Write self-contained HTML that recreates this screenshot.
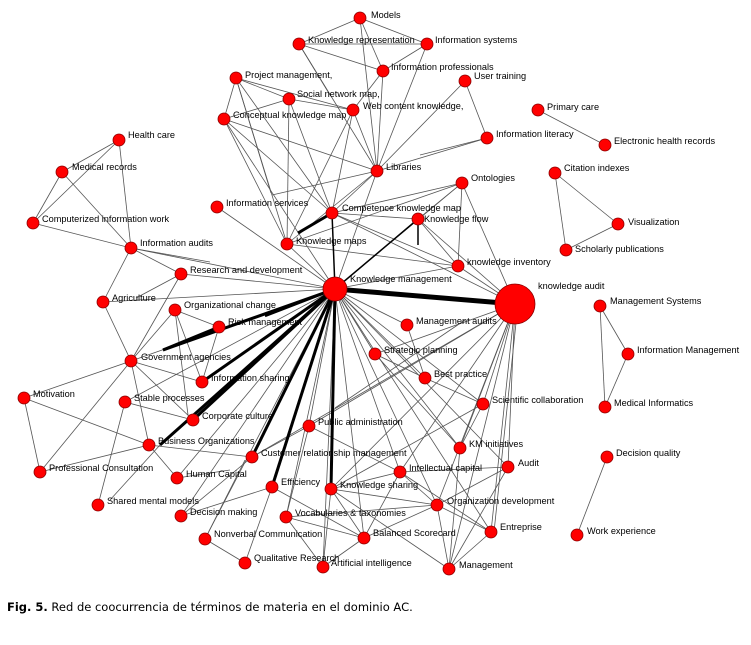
<!DOCTYPE html>
<html><head><meta charset="utf-8"><style>
html,body{margin:0;padding:0;background:#fff;}
svg{display:block;}
text{font-family:"Liberation Sans",Arial,sans-serif;font-size:9.2px;fill:#000;}
.e line{stroke:#555;stroke-width:0.8;}
.t line{stroke:#000;}
circle{fill:#f00;stroke:#8a0000;stroke-width:0.8;}
.cap{font-family:"DejaVu Sans",Verdana,sans-serif;font-size:11.5px;}
</style></head><body>
<svg width="751" height="645" viewBox="0 0 751 645">
<g class="e">
<line x1="335" y1="289" x2="287" y2="244"/><line x1="335" y1="289" x2="217" y2="207"/><line x1="335" y1="289" x2="181" y2="274"/>
<line x1="335" y1="289" x2="103" y2="302"/><line x1="335" y1="289" x2="131" y2="248"/><line x1="335" y1="289" x2="458" y2="266"/>
<line x1="335" y1="289" x2="462" y2="183"/><line x1="335" y1="289" x2="407" y2="325"/><line x1="335" y1="289" x2="375" y2="354"/>
<line x1="335" y1="289" x2="425" y2="378"/><line x1="335" y1="289" x2="483" y2="404"/><line x1="335" y1="289" x2="460" y2="448"/>
<line x1="335" y1="289" x2="309" y2="426"/><line x1="335" y1="289" x2="400" y2="472"/><line x1="335" y1="289" x2="437" y2="505"/>
<line x1="335" y1="289" x2="364" y2="538"/><line x1="335" y1="289" x2="286" y2="517"/><line x1="335" y1="289" x2="323" y2="567"/>
<line x1="335" y1="289" x2="491" y2="532"/><line x1="335" y1="289" x2="377" y2="171"/><line x1="335" y1="289" x2="224" y2="119"/>
<line x1="335" y1="289" x2="181" y2="516"/><line x1="335" y1="289" x2="177" y2="478"/><line x1="335" y1="289" x2="125" y2="402"/>
<line x1="335" y1="289" x2="508" y2="467"/><line x1="335" y1="289" x2="131" y2="361"/><line x1="335" y1="289" x2="205" y2="539"/>
<line x1="515" y1="304" x2="458" y2="266"/><line x1="515" y1="304" x2="418" y2="219"/><line x1="515" y1="304" x2="462" y2="183"/>
<line x1="515" y1="304" x2="483" y2="404"/><line x1="515" y1="304" x2="508" y2="467"/><line x1="515" y1="304" x2="491" y2="532"/>
<line x1="518" y1="304" x2="494" y2="532"/><line x1="515" y1="304" x2="449" y2="569"/><line x1="515" y1="304" x2="437" y2="505"/>
<line x1="515" y1="304" x2="331" y2="489"/><line x1="515" y1="304" x2="252" y2="457"/><line x1="515" y1="304" x2="400" y2="472"/>
<line x1="515" y1="304" x2="375" y2="354"/><line x1="515" y1="304" x2="309" y2="426"/><line x1="515" y1="304" x2="460" y2="448"/>
<line x1="515" y1="304" x2="332" y2="213"/>
<line x1="360" y1="18" x2="299" y2="44"/><line x1="360" y1="18" x2="427" y2="44"/><line x1="360" y1="18" x2="383" y2="71"/><line x1="360" y1="18" x2="377" y2="171"/>
<line x1="299" y1="44" x2="427" y2="44"/><line x1="299" y1="44" x2="383" y2="71"/><line x1="299" y1="44" x2="377" y2="171"/><line x1="299" y1="44" x2="330" y2="95"/>
<line x1="427" y1="44" x2="383" y2="71"/><line x1="427" y1="44" x2="377" y2="171"/><line x1="383" y1="71" x2="353" y2="110"/><line x1="383" y1="71" x2="377" y2="171"/>
<line x1="465" y1="81" x2="487" y2="138"/><line x1="465" y1="81" x2="377" y2="171"/><line x1="487" y1="138" x2="377" y2="171"/><line x1="487" y1="138" x2="420" y2="155"/>
<line x1="538" y1="110" x2="605" y2="145"/>
<line x1="236" y1="78" x2="289" y2="99"/><line x1="236" y1="78" x2="353" y2="110"/><line x1="236" y1="78" x2="224" y2="119"/><line x1="236" y1="78" x2="287" y2="244"/>
<line x1="236" y1="78" x2="332" y2="213"/><line x1="236" y1="78" x2="271" y2="193"/><line x1="289" y1="99" x2="353" y2="110"/><line x1="289" y1="99" x2="224" y2="119"/>
<line x1="289" y1="99" x2="287" y2="244"/><line x1="289" y1="99" x2="332" y2="213"/><line x1="353" y1="110" x2="287" y2="244"/><line x1="353" y1="110" x2="332" y2="213"/>
<line x1="353" y1="110" x2="377" y2="171"/><line x1="224" y1="119" x2="287" y2="244"/><line x1="224" y1="119" x2="332" y2="213"/><line x1="224" y1="119" x2="377" y2="171"/>
<line x1="377" y1="171" x2="332" y2="213"/><line x1="377" y1="171" x2="272" y2="195"/><line x1="377" y1="171" x2="287" y2="244"/>
<line x1="332" y1="213" x2="462" y2="183"/><line x1="332" y1="213" x2="418" y2="219"/><line x1="332" y1="213" x2="458" y2="266"/><line x1="287" y1="244" x2="462" y2="183"/>
<line x1="418" y1="219" x2="458" y2="266"/><line x1="462" y1="183" x2="458" y2="266"/><line x1="418" y1="219" x2="462" y2="183"/><line x1="287" y1="244" x2="458" y2="266"/>
<line x1="555" y1="173" x2="618" y2="224"/><line x1="555" y1="173" x2="566" y2="250"/><line x1="566" y1="250" x2="618" y2="224"/>
<line x1="600" y1="306" x2="628" y2="354"/><line x1="600" y1="306" x2="605" y2="407"/><line x1="628" y1="354" x2="605" y2="407"/>
<line x1="607" y1="457" x2="577" y2="535"/>
<line x1="119" y1="140" x2="62" y2="172"/><line x1="119" y1="140" x2="33" y2="223"/><line x1="119" y1="140" x2="131" y2="248"/>
<line x1="62" y1="172" x2="33" y2="223"/><line x1="62" y1="172" x2="131" y2="248"/><line x1="33" y1="223" x2="131" y2="248"/>
<line x1="131" y1="248" x2="181" y2="274"/><line x1="131" y1="248" x2="103" y2="302"/><line x1="131" y1="248" x2="210" y2="262"/>
<line x1="181" y1="274" x2="136" y2="298"/><line x1="181" y1="274" x2="131" y2="361"/><line x1="103" y1="302" x2="131" y2="361"/>
<line x1="131" y1="361" x2="175" y2="310"/><line x1="131" y1="361" x2="202" y2="382"/><line x1="131" y1="361" x2="24" y2="398"/><line x1="131" y1="361" x2="149" y2="445"/>
<line x1="131" y1="361" x2="40" y2="472"/><line x1="131" y1="361" x2="193" y2="420"/><line x1="175" y1="310" x2="219" y2="327"/><line x1="175" y1="310" x2="202" y2="382"/>
<line x1="175" y1="310" x2="188" y2="415"/><line x1="219" y1="327" x2="202" y2="382"/><line x1="24" y1="398" x2="40" y2="472"/><line x1="24" y1="398" x2="149" y2="445"/>
<line x1="125" y1="402" x2="193" y2="420"/><line x1="125" y1="402" x2="98" y2="505"/><line x1="149" y1="445" x2="252" y2="457"/><line x1="149" y1="445" x2="177" y2="478"/>
<line x1="149" y1="445" x2="40" y2="472"/><line x1="160" y1="445" x2="110" y2="500"/><line x1="252" y1="457" x2="181" y2="516"/><line x1="272" y1="487" x2="181" y2="516"/>
<line x1="272" y1="487" x2="245" y2="563"/><line x1="272" y1="487" x2="364" y2="538"/><line x1="205" y1="539" x2="245" y2="563"/><line x1="245" y1="460" x2="205" y2="539"/>
<line x1="309" y1="426" x2="286" y2="517"/><line x1="309" y1="426" x2="252" y2="457"/><line x1="309" y1="426" x2="400" y2="472"/><line x1="230" y1="470" x2="177" y2="478"/>
<line x1="331" y1="489" x2="364" y2="538"/><line x1="331" y1="489" x2="400" y2="472"/><line x1="331" y1="489" x2="437" y2="505"/><line x1="331" y1="489" x2="323" y2="567"/>
<line x1="286" y1="517" x2="364" y2="538"/><line x1="286" y1="517" x2="437" y2="505"/><line x1="286" y1="517" x2="323" y2="567"/><line x1="364" y1="538" x2="437" y2="505"/>
<line x1="364" y1="538" x2="323" y2="567"/><line x1="400" y1="472" x2="508" y2="467"/><line x1="400" y1="472" x2="437" y2="505"/><line x1="400" y1="472" x2="491" y2="532"/>
<line x1="437" y1="505" x2="449" y2="569"/><line x1="437" y1="505" x2="491" y2="532"/><line x1="437" y1="505" x2="508" y2="467"/><line x1="508" y1="467" x2="449" y2="569"/>
<line x1="491" y1="532" x2="449" y2="569"/><line x1="460" y1="448" x2="449" y2="569"/><line x1="483" y1="404" x2="331" y2="489"/><line x1="483" y1="404" x2="460" y2="448"/>
<line x1="425" y1="378" x2="407" y2="325"/><line x1="425" y1="378" x2="375" y2="354"/><line x1="425" y1="378" x2="483" y2="404"/><line x1="375" y1="354" x2="460" y2="448"/>
<line x1="465" y1="320" x2="335" y2="408"/><line x1="400" y1="472" x2="364" y2="538"/><line x1="331" y1="489" x2="449" y2="569"/>
</g>
<g class="t">
<line x1="335" y1="289" x2="515" y2="304" stroke-width="5"/>
<line x1="335" y1="289" x2="163" y2="350" stroke-width="3"/>
<line x1="335" y1="289" x2="265" y2="316" stroke-width="2.5"/>
<line x1="335" y1="289" x2="202" y2="382" stroke-width="3"/>
<line x1="335" y1="289" x2="193" y2="420" stroke-width="3"/>
<line x1="335" y1="289" x2="160" y2="445" stroke-width="3"/>
<line x1="335" y1="289" x2="252" y2="457" stroke-width="3"/>
<line x1="335" y1="289" x2="272" y2="487" stroke-width="3"/>
<line x1="335" y1="289" x2="331" y2="489" stroke-width="3"/>
<line x1="335" y1="289" x2="332" y2="213" stroke-width="1.5"/>
<line x1="332" y1="213" x2="298" y2="233" stroke-width="3"/>
<line x1="335" y1="289" x2="418" y2="219" stroke-width="1.5"/>
<line x1="418" y1="219" x2="418" y2="245" stroke-width="1.5"/>
<line x1="219" y1="327" x2="163" y2="350" stroke-width="3"/>
</g>
<g>
<circle cx="335" cy="289" r="12"/><circle cx="515" cy="304" r="20"/>
<circle cx="360" cy="18" r="6"/><circle cx="299" cy="44" r="6"/><circle cx="427" cy="44" r="6"/><circle cx="383" cy="71" r="6"/>
<circle cx="465" cy="81" r="6"/><circle cx="236" cy="78" r="6"/><circle cx="289" cy="99" r="6"/><circle cx="353" cy="110" r="6"/>
<circle cx="224" cy="119" r="6"/><circle cx="538" cy="110" r="6"/><circle cx="487" cy="138" r="6"/><circle cx="605" cy="145" r="6"/>
<circle cx="119" cy="140" r="6"/><circle cx="62" cy="172" r="6"/><circle cx="377" cy="171" r="6"/><circle cx="555" cy="173" r="6"/>
<circle cx="462" cy="183" r="6"/><circle cx="33" cy="223" r="6"/><circle cx="217" cy="207" r="6"/><circle cx="332" cy="213" r="6"/>
<circle cx="418" cy="219" r="6"/><circle cx="618" cy="224" r="6"/><circle cx="131" cy="248" r="6"/><circle cx="287" cy="244" r="6"/>
<circle cx="566" cy="250" r="6"/><circle cx="458" cy="266" r="6"/><circle cx="181" cy="274" r="6"/><circle cx="103" cy="302" r="6"/>
<circle cx="600" cy="306" r="6"/><circle cx="175" cy="310" r="6"/><circle cx="219" cy="327" r="6"/><circle cx="407" cy="325" r="6"/>
<circle cx="628" cy="354" r="6"/><circle cx="375" cy="354" r="6"/><circle cx="131" cy="361" r="6"/><circle cx="425" cy="378" r="6"/>
<circle cx="202" cy="382" r="6"/><circle cx="24" cy="398" r="6"/><circle cx="125" cy="402" r="6"/><circle cx="483" cy="404" r="6"/>
<circle cx="605" cy="407" r="6"/><circle cx="193" cy="420" r="6"/><circle cx="309" cy="426" r="6"/><circle cx="149" cy="445" r="6"/>
<circle cx="460" cy="448" r="6"/><circle cx="607" cy="457" r="6"/><circle cx="252" cy="457" r="6"/><circle cx="508" cy="467" r="6"/>
<circle cx="400" cy="472" r="6"/><circle cx="40" cy="472" r="6"/><circle cx="177" cy="478" r="6"/><circle cx="272" cy="487" r="6"/>
<circle cx="331" cy="489" r="6"/><circle cx="437" cy="505" r="6"/><circle cx="98" cy="505" r="6"/><circle cx="181" cy="516" r="6"/>
<circle cx="286" cy="517" r="6"/><circle cx="491" cy="532" r="6"/><circle cx="577" cy="535" r="6"/><circle cx="205" cy="539" r="6"/>
<circle cx="364" cy="538" r="6"/><circle cx="245" cy="563" r="6"/><circle cx="323" cy="567" r="6"/><circle cx="449" cy="569" r="6"/>
</g>
<g>
<text x="371" y="18">Models</text><text x="308" y="43">Knowledge representation</text><text x="435" y="43">Information systems</text>
<text x="391" y="70">Information professionals</text><text x="474" y="79">User training</text><text x="245" y="78">Project management,</text>
<text x="297" y="97">Social network map,</text><text x="363" y="109">Web content knowledge,</text><text x="233" y="118">Conceptual knowledge map</text>
<text x="547" y="110">Primary care</text><text x="496" y="137">Information literacy</text><text x="614" y="144">Electronic health records</text>
<text x="128" y="138">Health care</text><text x="72" y="170">Medical records</text><text x="386" y="170">Libraries</text>
<text x="564" y="171">Citation indexes</text><text x="471" y="181">Ontologies</text><text x="42" y="222">Computerized information work</text>
<text x="226" y="206">Information services</text><text x="342" y="211">Competence knowledge map</text><text x="424" y="222">Knowledge flow</text>
<text x="628" y="225">Visualization</text><text x="140" y="246">Information audits</text><text x="296" y="244">Knowledge maps</text>
<text x="575" y="252">Scholarly publications</text><text x="467" y="265">knowledge inventory</text><text x="190" y="273">Research and development</text>
<text x="350" y="282">Knowledge management</text><text x="538" y="289">knowledge audit</text><text x="112" y="301">Agriculture</text>
<text x="610" y="304">Management Systems</text><text x="184" y="308">Organizational change</text><text x="228" y="325">Risk management</text>
<text x="416" y="324">Management audits</text><text x="637" y="353">Information Management</text><text x="384" y="353">Strategic planning</text>
<text x="141" y="360">Government agencies</text><text x="434" y="377">Best practice</text><text x="211" y="381">Information sharing</text>
<text x="33" y="397">Motivation</text><text x="134" y="401">Stable processes</text><text x="492" y="403">Scientific collaboration</text>
<text x="614" y="406">Medical Informatics</text><text x="202" y="419">Corporate culture</text><text x="318" y="425">Public administration</text>
<text x="158" y="444">Business Organizations</text><text x="469" y="447">KM initiatives</text><text x="616" y="456">Decision quality</text>
<text x="261" y="456">Customer relationship management</text><text x="518" y="466">Audit</text><text x="409" y="471">Intellectual capital</text>
<text x="49" y="471">Professional Consultation</text><text x="186" y="477">Human Capital</text><text x="281" y="485">Efficiency</text>
<text x="340" y="488">Knowledge sharing</text><text x="447" y="504">Organization development</text><text x="107" y="504">Shared mental models</text>
<text x="190" y="515">Decision making</text><text x="295" y="516">Vocabularies &amp; taxonomies</text><text x="500" y="530">Entreprise</text>
<text x="587" y="534">Work experience</text><text x="214" y="537">Nonverbal Communication</text><text x="373" y="536">Balanced Scorecard</text>
<text x="254" y="561">Qualitative Research</text><text x="331" y="566">Artificial intelligence</text><text x="459" y="568">Management</text>
</g>
<text class="cap" x="7" y="611"><tspan font-weight="bold">Fig. 5.</tspan> Red de coocurrencia de términos de materia en el dominio AC.</text>
</svg>
</body></html>
